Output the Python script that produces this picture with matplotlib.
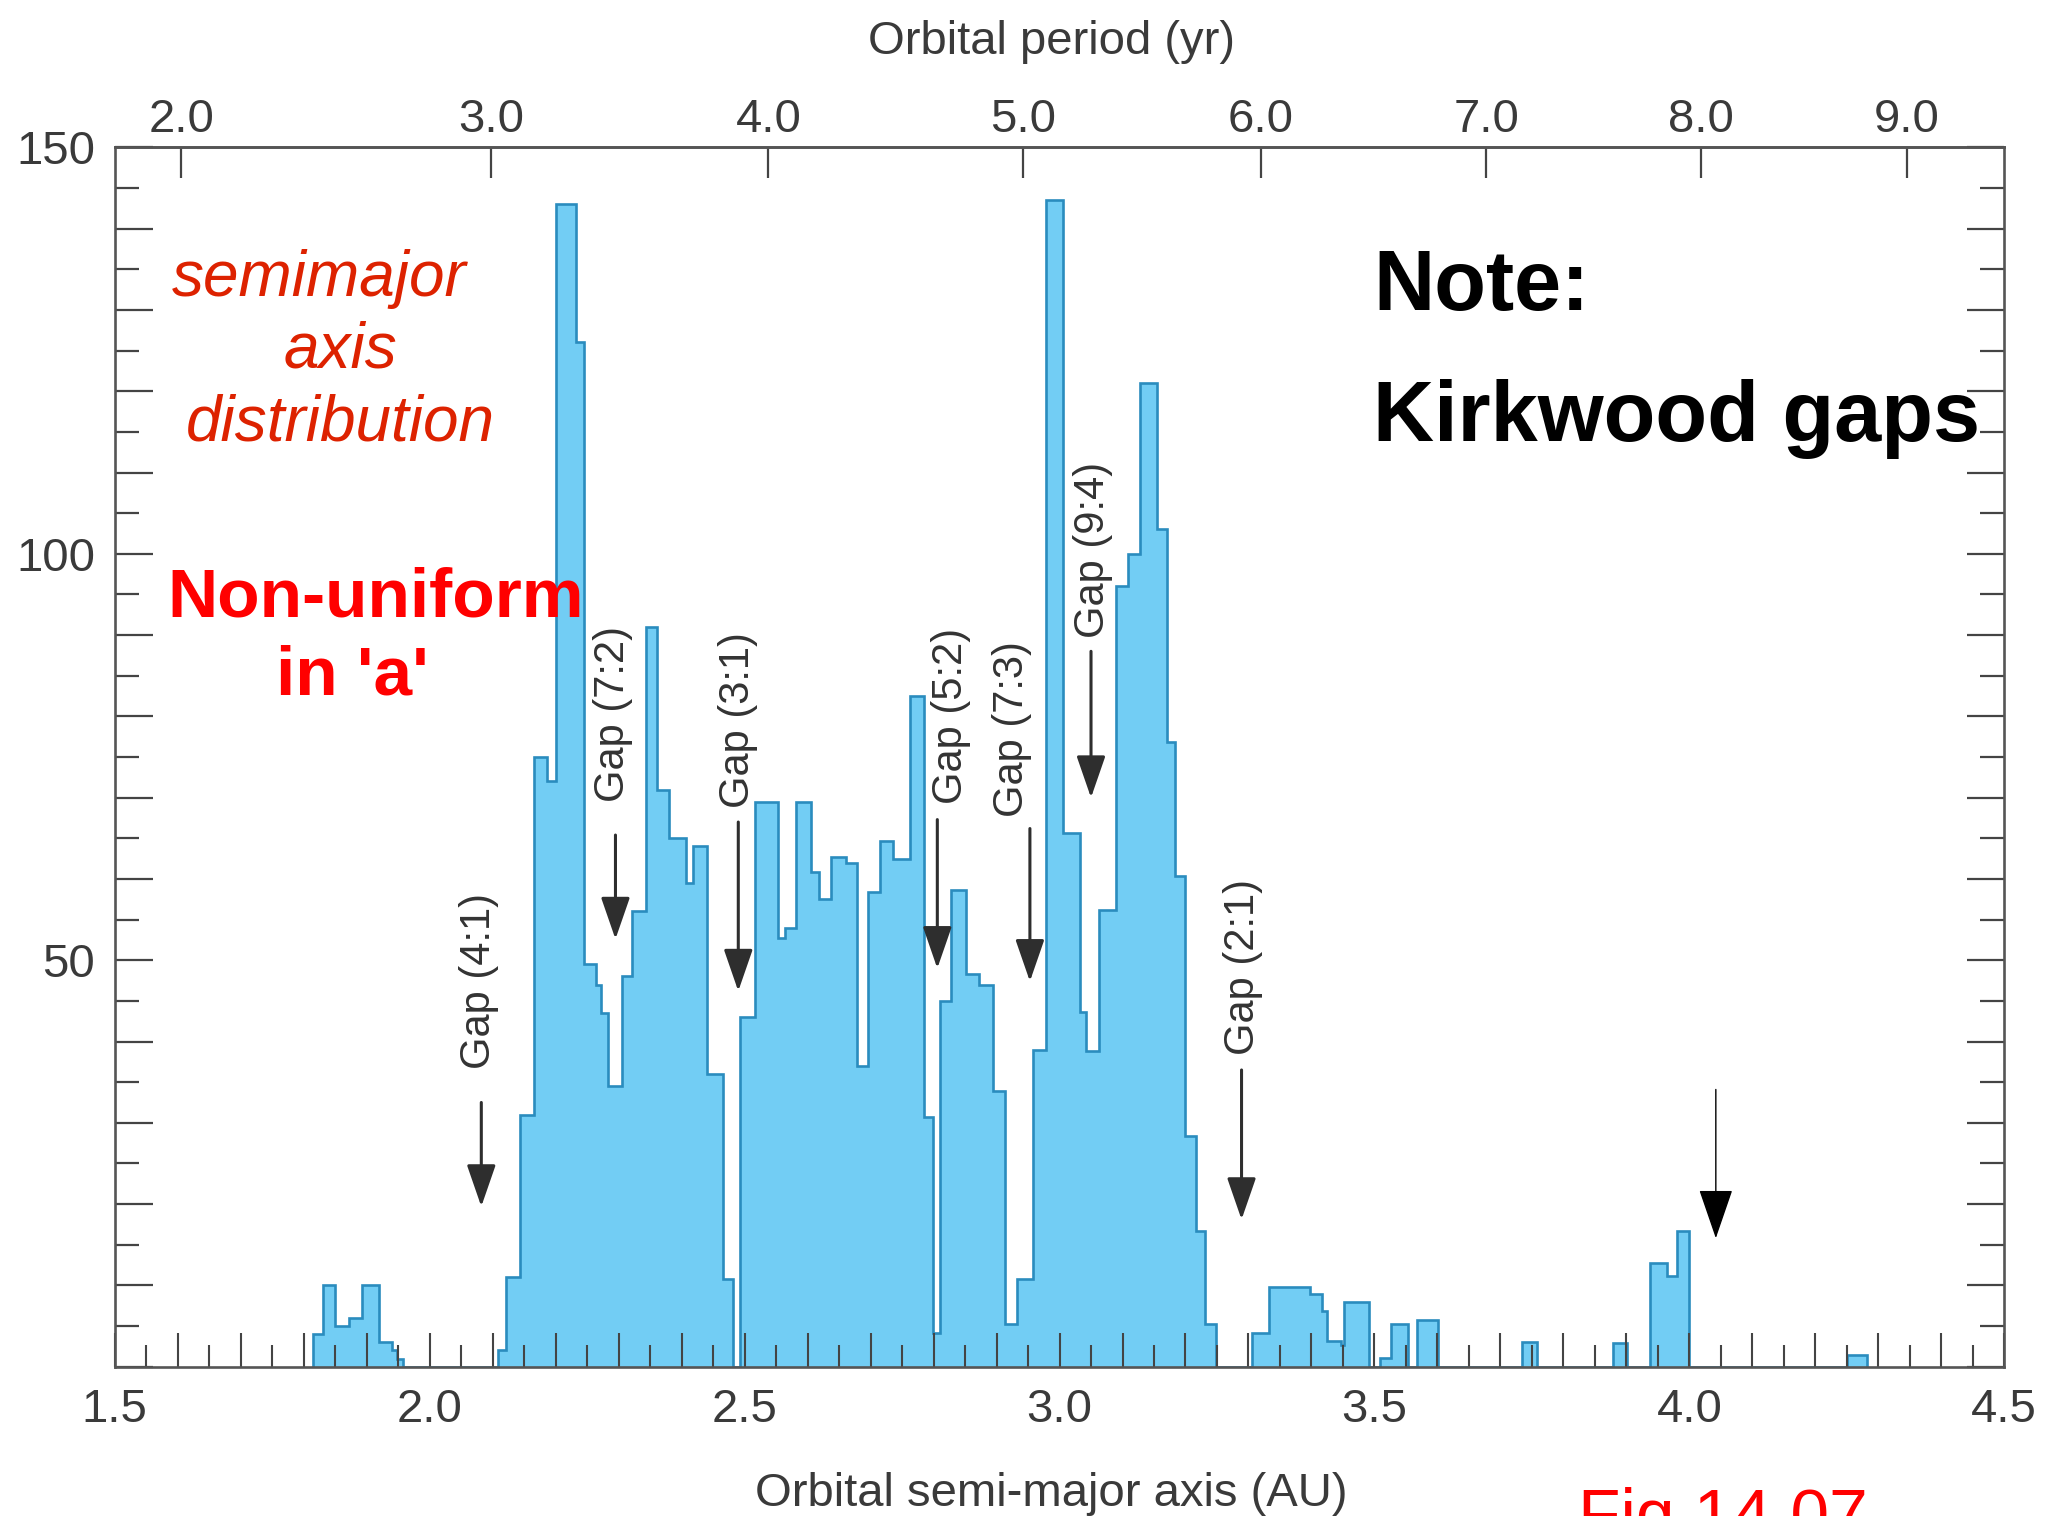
import numpy as np
import matplotlib
matplotlib.use('Agg')
import matplotlib.pyplot as plt
from matplotlib.ticker import FixedLocator, FuncFormatter

# ---------------- data ----------------
bin_edges = [1.815, 1.831, 1.850, 1.872, 1.892, 1.919, 1.940, 1.948, 1.958,
             2.109, 2.122, 2.143, 2.165, 2.186, 2.200, 2.232, 2.245, 2.264,
             2.272, 2.283, 2.305, 2.321, 2.343, 2.361, 2.380, 2.407, 2.418,
             2.441, 2.465, 2.482, 2.492, 2.516, 2.553, 2.564, 2.581, 2.605,
             2.618, 2.637, 2.661, 2.679, 2.696, 2.715, 2.735, 2.762, 2.785,
             2.799, 2.810, 2.828, 2.852, 2.872, 2.895, 2.913, 2.932, 2.958,
             2.979, 3.006, 3.032, 3.042, 3.063, 3.090, 3.109, 3.128, 3.155,
             3.171, 3.184, 3.200, 3.217, 3.231, 3.249, 3.305, 3.333, 3.397,
             3.417, 3.424, 3.447, 3.452, 3.491, 3.509, 3.527, 3.554, 3.568,
             3.601, 3.735, 3.758, 3.879, 3.901, 3.938, 3.965, 3.981, 4.000,
             4.250, 4.282]
counts = [4, 10, 5, 6, 10, 3, 2, 1,
          0,
          2, 11, 31, 75, 72, 143, 126, 49.5,
          47, 43.5, 34.5, 48, 56, 91, 71, 65, 59.5,
          64, 36, 10.8, 0, 43, 69.5, 52.7, 54, 69.5,
          60.8, 57.5, 62.7, 62, 37, 58.4, 64.7, 62.5, 82.5,
          30.7, 4.2, 45, 58.6, 48.3, 46.9, 33.9, 5.2, 10.8,
          39, 143.5, 65.7, 43.6, 38.8, 56.2, 96, 100, 121,
          103, 76.8, 60.4, 28.4, 16.7, 5.2, 0, 4.2, 9.8,
          9.0, 6.8, 3.2, 2.7, 8, 0, 1.1, 5.2, 0,
          5.7, 0, 3, 0, 2.9, 0, 12.7, 11.1, 16.7,
          0, 1.4]

gap_labels = ['Gap (4:1)', 'Gap (7:2)', 'Gap (3:1)', 'Gap (5:2)',
              'Gap (7:3)', 'Gap (9:4)', 'Gap (2:1)']
gap_arrow_a = [2.082, 2.295, 2.490, 2.806, 2.953, 3.050, 3.289]
gap_arrow_top = [32.5, 65.4, 67.0, 67.3, 66.2, 88.0, 36.5]
gap_arrow_tip = [19.7, 52.6, 46.2, 49.0, 47.4, 70.0, 18.1]
gap_text_a = [2.078, 2.291, 2.490, 2.828, 2.924, 3.053, 3.291]
gap_text_y = [47.4, 80.3, 79.6, 80.0, 78.4, 100.5, 49.2]

extra_arrow_a = 4.042
extra_arrow_top = 34.1
extra_arrow_tip = 15.8

period_ticks = [2.0, 3.0, 4.0, 5.0, 6.0, 7.0, 8.0, 9.0]
period_offset = 0.018  # small drawing offset of the period scale in the figure

# ---------------- figure ----------------
FONT = ['Liberation Sans', 'DejaVu Sans']
plt.rcParams['font.family'] = FONT

fig = plt.figure(figsize=(20.45, 15.16), dpi=100)
ax = fig.add_axes([0.0561, 0.0985, 0.9240, 0.8043])

fill_c = '#72CDF4'
edge_c = '#2A8CBE'
ax.stairs(counts, bin_edges, baseline=0, fill=True, facecolor=fill_c,
          edgecolor='none', zorder=1)
ax.stairs(counts, bin_edges, baseline=0, fill=False, edgecolor=edge_c,
          linewidth=1.9, zorder=1.2)

ax.set_xlim(1.5, 4.5)
ax.set_ylim(0, 150)

spine_c = '#555555'
tick_c = '#444444'
lab_c = '#3a3a3a'
for s in ax.spines.values():
    s.set_color(spine_c)
    s.set_linewidth(1.9)

# x ticks
xmaj = np.round(np.arange(1.5, 4.5001, 0.1), 2)
xmin = np.round(np.arange(1.55, 4.5, 0.1), 2)
ax.xaxis.set_major_locator(FixedLocator(xmaj))
ax.xaxis.set_minor_locator(FixedLocator(xmin))
ax.xaxis.set_major_formatter(FuncFormatter(
    lambda v, p: f'{v:.1f}' if abs(v * 2 - round(v * 2)) < 1e-6 else ''))
ax.tick_params(axis='x', which='major', direction='in', length=24.5, width=1.5,
               color=tick_c, labelsize=34, labelcolor=lab_c, pad=15,
               top=False, bottom=True)
ax.tick_params(axis='x', which='minor', direction='in', length=16, width=1.5,
               color=tick_c, top=False, bottom=True)

# y ticks
ymaj = np.arange(0, 151, 10)
ymin = np.arange(5, 150, 10)
ax.yaxis.set_major_locator(FixedLocator(ymaj))
ax.yaxis.set_minor_locator(FixedLocator(ymin))
ax.yaxis.set_major_formatter(FuncFormatter(
    lambda v, p: f'{int(v)}' if int(round(v)) in (50, 100, 150) else ''))
ax.tick_params(axis='y', which='major', direction='in', length=27, width=1.6,
               color=tick_c, labelsize=34, labelcolor=lab_c, pad=14,
               left=True, right=True)
ax.tick_params(axis='y', which='minor', direction='in', length=17, width=1.6,
               color=tick_c, left=True, right=True)


def a_to_p(a):
    a = np.asarray(a, dtype=float)
    return np.clip(a - period_offset, 1e-6, None) ** 1.5


def p_to_a(p):
    p = np.asarray(p, dtype=float)
    return np.clip(p, 1e-6, None) ** (2.0 / 3.0) + period_offset


sec = ax.secondary_xaxis('top', functions=(a_to_p, p_to_a))
sec.set_xticks(period_ticks)
sec.set_xticklabels([f'{p:.1f}' for p in period_ticks])
sec.tick_params(axis='x', which='major', direction='in', length=22, width=1.6,
                color=tick_c, labelsize=34, labelcolor=lab_c, pad=4)
sec.tick_params(axis='x', which='minor', length=0)
sec.spines['top'].set_color(spine_c)
sec.spines['top'].set_linewidth(1.9)

# axis titles
fig.text(0.514, 0.0145, 'Orbital semi-major axis (AU)', ha='center', va='center',
         fontsize=34, color=lab_c)
fig.text(0.514, 0.9725, 'Orbital period (yr)', ha='center', va='center',
         fontsize=34, color=lab_c)

# gap arrows and labels
arrow_c = '#2e2e2e'
for lab, xa, yt, yp, xt, ytx in zip(gap_labels, gap_arrow_a, gap_arrow_top,
                                     gap_arrow_tip, gap_text_a, gap_text_y):
    ax.annotate('', xy=(xa, yp), xytext=(xa, yt),
                arrowprops=dict(arrowstyle='-|>,head_length=1.3,head_width=0.45',
                                color=arrow_c, lw=2.2, mutation_scale=20,
                                shrinkA=0, shrinkB=0), zorder=4)
    ax.text(xt, ytx, lab, rotation=90, ha='center', va='center', fontsize=30,
            color='#333333', zorder=4)

ax.annotate('', xy=(extra_arrow_a, extra_arrow_tip),
            xytext=(extra_arrow_a, extra_arrow_top),
            arrowprops=dict(arrowstyle='-|>,head_length=1.6,head_width=0.55',
                            color='black', lw=1.0, mutation_scale=20,
                            shrinkA=0, shrinkB=0), zorder=4)

# annotations
orange_red = '#DD2200'
ax.text(1.825, 131.7, 'semimajor', ha='center', va='baseline', fontsize=46,
        style='italic', color=orange_red, zorder=5)
ax.text(1.858, 122.9, 'axis', ha='center', va='baseline', fontsize=46,
        style='italic', color=orange_red, zorder=5)
ax.text(1.858, 113.9, 'distribution', ha='center', va='baseline', fontsize=46,
        style='italic', color=orange_red, zorder=5)

ax.text(1.915, 92.3, 'Non-uniform', ha='center', va='baseline', fontsize=50,
        fontweight='bold', color='#FF0000', zorder=5)
ax.text(1.877, 82.7, "in 'a'", ha='center', va='baseline', fontsize=50,
        fontweight='bold', color='#FF0000', zorder=5)

ax.text(3.498, 130.0, 'Note:', ha='left', va='baseline', fontsize=61,
        fontweight='bold', color='black', zorder=5)
ax.text(3.498, 113.9, 'Kirkwood gaps', ha='left', va='baseline', fontsize=61,
        fontweight='bold', color='black', zorder=5)

# partially cut off at the bottom edge, as in the reference
fig.text(0.7716, -0.0138, 'Fig 14.07', ha='left', va='baseline', fontsize=50,
         color='#FF0000')

fig.savefig('out.png', dpi=100)
